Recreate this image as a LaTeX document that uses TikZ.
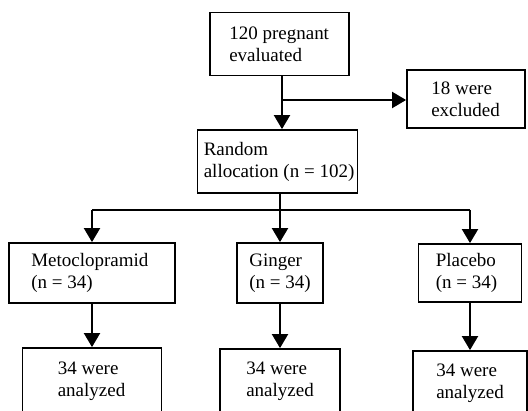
\documentclass[tikz,border=0pt]{standalone}
\usepackage{fontspec}
\setmainfont{Liberation Serif}
\usetikzlibrary{arrows.meta}

\tikzset{
  box/.style={draw, line width=1.8pt, inner sep=0pt},
  lbl/.style={anchor=west, align=left, inner sep=0pt, font=\fontsize{19}{22}\selectfont},
  line/.style={line width=2pt},
  arr/.style={line width=2pt, -{Triangle[length=14pt,width=16pt]}}
}

\begin{document}
\begin{tikzpicture}[x=1pt,y=-1pt]
\path[use as bounding box, clip] (0,0) rectangle (528,411);
\fill[white] (0,0) rectangle (528,411);
\node[box, minimum width=139, minimum height=63, label={[lbl,xshift=20]west:{120 pregnant\\evaluated}}] (eval) at (279.5,44) {};
\node[box, minimum width=118, minimum height=58, label={[lbl,xshift=25]west:{18 were\\excluded}}] (excl) at (466,99) {};
\node[box, minimum width=160, minimum height=63, label={[lbl,xshift=7]west:{Random\\allocation (n = 102)}}] (random) at (277.5,161.5) {};
\node[box, minimum width=166, minimum height=60, label={[lbl,xshift=23]west:{Metoclopramid\\(n = 34)}}] (meto) at (92,273) {};
\node[box, minimum width=86, minimum height=60, label={[lbl,xshift=13]west:{Ginger\\(n = 34)}}] (ginger) at (280,273) {};
\node[box, minimum width=103, minimum height=58, label={[lbl,xshift=18]west:{Placebo\\(n = 34)}}] (placebo) at (470,273) {};
\node[box, minimum width=139, minimum height=66, label={[lbl,xshift=36]west:{34 were\\analyzed}}] (metores) at (92,381) {};
\node[box, minimum width=120, minimum height=65, label={[lbl,xshift=27]west:{34 were\\analyzed}}] (gingerres) at (280,381.5) {};
\node[box, minimum width=114, minimum height=64, label={[lbl,xshift=24]west:{34 were\\analyzed}}] (placebores) at (470,383) {};
% screening
\coordinate (trunk) at (282,100);
\draw[arr] (trunk |- eval.south) -- (trunk |- random.north);
\draw[arr] (trunk) -- (excl.west |- trunk);
% allocation
\coordinate (fork) at (280,210);
\draw[line] (random.south -| fork) -- (fork);
\draw[line] (fork -| meto) -- (fork -| placebo);
\foreach \grp in {meto,ginger,placebo}
  \draw[arr] (fork -| \grp) -- (\grp.north);
% analysis
\foreach \grp in {meto,ginger,placebo}
  \draw[arr] (\grp.south) -- (\grp.south |- \grp res.north);
\end{tikzpicture}
\end{document}
